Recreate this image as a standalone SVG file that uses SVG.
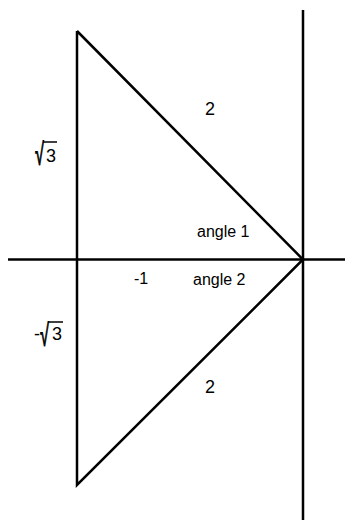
<svg xmlns="http://www.w3.org/2000/svg" width="351" height="520" viewBox="0 0 351 520">
<style>
.ln{stroke:#000;stroke-width:2.5;fill:none;stroke-linecap:butt}
.t{font-family:"Liberation Sans",Arial,sans-serif;font-size:16px;fill:#000}
.big{font-size:18px}
.rad{font-family:"Liberation Sans",Arial,sans-serif;font-size:18px;fill:#000;stroke:#000;stroke-width:0.6}
.bar{stroke:#000;stroke-width:1.5}
</style>
<rect width="351" height="520" fill="#fff"/>
<g id="axes">
<line class="ln" x1="8" y1="259.5" x2="345" y2="259.5"/>
<line class="ln" x1="303" y1="10" x2="303" y2="520"/>
</g>
<g id="connectors">
<polyline class="ln" points="77,31 303,259.5 77,485 77,31"/>
</g>
<g id="labels">
<text class="t big" x="210" y="115" text-anchor="middle">2</text>
<text class="t big" x="210" y="393" text-anchor="middle">2</text>
<text class="t" x="197" y="237">angle 1</text>
<text class="t" x="193" y="285">angle 2</text>
<text class="t" x="134" y="284">-1</text>
<g id="sqrt3">
<text class="rad" transform="translate(35,165) scale(0.9,1.7)" x="0" y="0">√</text>
<line class="bar" x1="43" y1="142" x2="57" y2="142"/>
<text class="t big" x="46" y="162">3</text>
</g>
<g id="negsqrt3">
<text class="t big" x="34" y="340">-</text>
<text class="rad" transform="translate(40,346) scale(0.9,1.7)" x="0" y="0">√</text>
<line class="bar" x1="48" y1="322" x2="63" y2="322"/>
<text class="t big" x="52" y="340">3</text>
</g>
</g>
</svg>
